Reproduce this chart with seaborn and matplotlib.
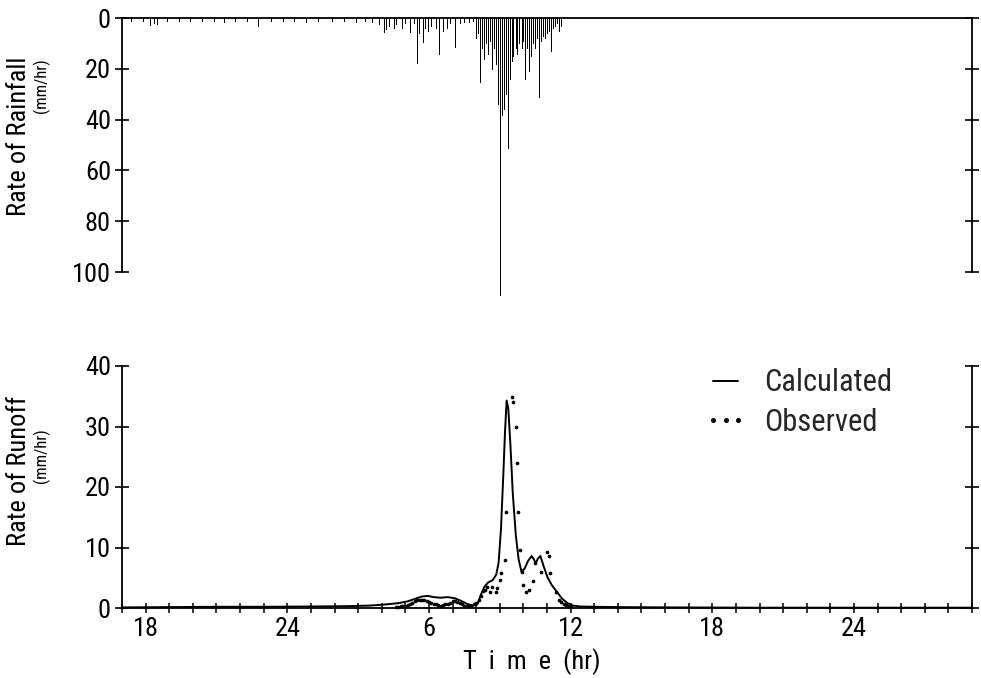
import matplotlib
matplotlib.use("Agg")
import matplotlib.pyplot as plt
import matplotlib.font_manager as fm
from matplotlib.lines import Line2D
from matplotlib.ticker import FixedLocator, MultipleLocator
import seaborn as sns
import pandas as pd

# ---------------- data ----------------
# time axis in continuous hours: 18 = 18:00 day 1, 30 = 6:00 day 2, ...
time_ticks = [18, 24, 30, 36, 42, 48]
time_tick_labels = ["18", "24", "6", "12", "18", "24"]
rain_ticks = [0, 20, 40, 60, 80, 100]
runoff_ticks = [0, 10, 20, 30, 40]

rain_hour = [17.4, 17.9, 18.2, 18.35, 18.5, 18.9, 19.4, 19.9, 20.4, 20.9,
             21.3, 21.8, 22.3, 22.77, 23.3, 23.8, 24.3, 24.8, 25.3, 25.9,
             26.4, 26.9, 27.3, 27.6, 27.9, 28.1, 28.2, 28.3, 28.5, 28.6,
             28.85, 29.0, 29.2, 29.35, 29.5, 29.58, 29.75, 29.85, 29.95, 30.1,
             30.3, 30.44, 30.6, 30.75, 30.9, 31.12, 31.3, 31.5, 31.7, 31.85,
             32.00, 32.08, 32.17, 32.25, 32.33, 32.42, 32.50, 32.58, 32.67, 32.75,
             32.83, 32.92, 33.00, 33.08, 33.17, 33.25, 33.33, 33.42, 33.50, 33.58,
             33.67, 33.75, 33.83, 33.92, 34.00, 34.08, 34.17, 34.25, 34.33, 34.42,
             34.50, 34.58, 34.67, 34.75, 34.83, 34.92, 35.00, 35.08, 35.17, 35.25,
             35.33, 35.42, 35.50, 35.58]
rain_rate = [1.0, 1.2, 2.8, 2.0, 2.5, 1.0, 1.2, 1.0, 1.2, 1.0,
             1.5, 1.0, 1.2, 3.0, 1.0, 1.2, 1.0, 1.5, 1.0, 1.2,
             1.0, 1.5, 1.2, 1.5, 2.5, 5.4, 4.5, 3.0, 3.9, 2.5,
             3.9, 2.0, 5.4, 2.0, 17.7, 6.0, 9.3, 4.0, 5.0, 3.0,
             4.0, 14.2, 5.0, 4.0, 2.0, 11.3, 2.0, 1.5, 1.5, 1.0,
             8, 6, 25, 12, 16, 10, 14, 9, 20, 12,
             18, 34, 109, 38, 36, 30, 51, 24, 17, 15,
             12, 14, 10, 12, 9, 24, 12, 21, 15, 10,
             12, 8, 31, 9, 7, 8, 6, 5, 13, 4,
             3, 2, 5, 3]

calc_hour = [17.0, 19.0, 21.0, 23.0, 25.0, 26.5, 27.5, 28.2, 28.7, 29.1,
             29.4, 29.7, 29.95, 30.2, 30.5, 30.8, 31.1, 31.35, 31.6, 31.85,
             32.05, 32.2, 32.35, 32.5, 32.7, 32.85, 32.95, 33.05, 33.15, 33.22,
             33.29, 33.36, 33.45, 33.55, 33.68, 33.8, 33.92, 34.05, 34.2, 34.35,
             34.45, 34.52, 34.62, 34.72, 34.85, 35.02, 35.2, 35.45, 35.65, 35.87,
             36.1, 36.4, 37.0, 38.0, 40.0, 44.0, 48.0, 53.0]
calc_rate = [0.1, 0.15, 0.2, 0.2, 0.25, 0.3, 0.4, 0.6, 0.8, 1.1,
             1.5, 1.9, 2.0, 1.8, 1.7, 1.8, 1.6, 1.2, 0.7, 0.4,
             0.6, 2.2, 3.5, 4.2, 4.6, 5.5, 7.5, 13.0, 22.0, 29.0,
             34.3, 33.0, 27.0, 19.0, 12.0, 8.0, 6.0, 6.5, 7.8, 8.6,
             8.0, 7.4, 8.2, 8.6, 7.0, 5.1, 3.8, 2.5, 1.5, 0.8,
             0.4, 0.25, 0.2, 0.15, 0.1, 0.05, 0.05, 0.05]

obs_hour = [28.6, 28.7, 28.8, 28.9, 29.0, 29.1, 29.2, 29.3, 29.4, 29.5,
            29.6, 29.7, 29.8, 29.9, 30.0, 30.1, 30.2, 30.3, 30.4, 30.5,
            30.6, 30.7, 30.8, 30.9, 31.0, 31.1, 31.2, 31.3, 31.4, 31.5,
            31.6, 31.7, 31.8, 31.9, 32.0, 32.1, 32.2, 32.3, 32.39, 32.48,
            32.58, 32.69, 32.82, 32.9, 32.99, 33.07, 33.2, 33.28, 33.5, 33.58,
            33.67, 33.71, 33.79, 33.84, 33.96, 34.0, 34.13, 34.22, 34.39, 34.51,
            34.73, 34.98, 35.07, 35.11, 35.36, 35.49, 35.6, 35.7, 35.8, 35.9, 36.0]
obs_rate = [0.2, 0.2, 0.3, 0.3, 0.4, 0.5, 0.7, 0.9, 1.1, 1.3,
            1.4, 1.4, 1.3, 1.2, 1.0, 0.8, 0.7, 0.6, 0.5, 0.4,
            0.5, 0.6, 0.7, 0.9, 1.1, 1.2, 1.0, 0.8, 0.6, 0.4,
            0.3, 0.3, 0.4, 0.6, 0.9, 1.3, 2.0, 2.8, 3.0, 3.5,
            2.6, 3.5, 2.6, 3.3, 4.6, 5.8, 7.9, 15.9, 34.9, 34.0,
            29.9, 24.0, 15.9, 9.6, 6.0, 3.8, 2.6, 3.0, 4.5, 7.4,
            6.0, 9.3, 8.6, 5.8, 2.6, 1.3, 1.0, 0.7, 0.5, 0.4, 0.3]

# ---------------- style ----------------
sns.set_theme(style="ticks")
avail = {f.name for f in fm.fontManager.ttflist}
narrow = None
for cand in ["Liberation Sans Narrow", "Roboto Condensed", "Open Sans Condensed"]:
    if cand in avail:
        narrow = cand
        break
fam = [narrow, "DejaVu Sans"] if narrow else ["DejaVu Sans"]
plt.rcParams["font.family"] = fam
tick_fs = 19 if narrow else 16
lab_fs = 19 if narrow else 16
unit_fs = 12 if narrow else 10
leg_fs = 22 if narrow else 18

W, H = 981, 678
fig = plt.figure(figsize=(W / 100, H / 100), dpi=100)


def rect(l, r, t, b):
    return [l / W, 1 - b / H, (r - l) / W, (b - t) / H]


ax1 = fig.add_axes(rect(122, 972, 18, 272))
ax2 = fig.add_axes(rect(122, 972, 366, 608))

# ---------------- rainfall (hanging bars) ----------------
rain_df = pd.DataFrame({"hour": rain_hour, "rate": rain_rate})
ax1.vlines(rain_df["hour"], 0, rain_df["rate"], colors="black", lw=0.55, clip_on=False,
           antialiased=False)
ax1.set_xlim(17, 53)
ax1.set_ylim(100, 0)
ax1.set_xticks([])
ax1.yaxis.set_major_locator(FixedLocator(rain_ticks))
ax1.set_yticklabels([str(v) for v in rain_ticks])
ax1.spines["bottom"].set_visible(False)
for s in ["top", "left", "right"]:
    ax1.spines[s].set_visible(True)
    ax1.spines[s].set_linewidth(1.3)
    ax1.spines[s].set_color("black")
ax1.tick_params(axis="y", direction="inout", length=10, width=1.2, left=True, right=True,
                labelsize=tick_fs, colors="black", pad=3)
ax1.set_xlabel("")
ax1.set_ylabel("")

# ---------------- runoff ----------------
calc_df = pd.DataFrame({"hour": calc_hour, "rate": calc_rate})
obs_df = pd.DataFrame({"hour": obs_hour, "rate": obs_rate})
sns.lineplot(data=calc_df, x="hour", y="rate", ax=ax2, color="black", lw=1.4, clip_on=False)
sns.scatterplot(data=obs_df, x="hour", y="rate", ax=ax2, color="black", s=7, linewidth=0,
                marker="o", clip_on=False)
ax2.set_xlim(17, 53)
ax2.set_ylim(0, 40)
ax2.xaxis.set_major_locator(FixedLocator(time_ticks))
ax2.set_xticklabels(time_tick_labels)
ax2.xaxis.set_minor_locator(MultipleLocator(1))
ax2.yaxis.set_major_locator(FixedLocator(runoff_ticks))
ax2.set_yticklabels([str(v) for v in runoff_ticks])
ax2.spines["top"].set_visible(False)
for s in ["bottom", "left", "right"]:
    ax2.spines[s].set_visible(True)
    ax2.spines[s].set_linewidth(1.3)
    ax2.spines[s].set_color("black")
ax2.tick_params(axis="x", which="both", direction="inout", length=7, width=1.1,
                labelsize=tick_fs, colors="black", pad=3)
ax2.tick_params(axis="y", direction="inout", length=10, width=1.2, left=True, right=True,
                labelsize=tick_fs, colors="black", pad=3)
ax2.set_xlabel("")
ax2.set_ylabel("")

handles = [Line2D([0], [0], color="black", lw=1.4),
           Line2D([0], [0], ls="none", marker="o", ms=2.6, color="black")]
ax2.legend(handles, ["Calculated", "Observed"], loc="upper left", bbox_to_anchor=(0.685, 0.99),
           frameon=False, numpoints=3, handlelength=1.4, fontsize=leg_fs, handletextpad=0.55,
           labelspacing=0.35, borderaxespad=0, borderpad=0)

# ---------------- axis titles ----------------
fig.text(19 / W, 1 - 136 / H, "Rate of Rainfall", rotation=90, ha="center", va="center",
         fontsize=lab_fs, color="black")
fig.text(41 / W, 1 - 86 / H, "(mm/hr)", rotation=90, ha="center", va="center",
         fontsize=unit_fs, color="black")
fig.text(19 / W, 1 - 471 / H, "Rate of Runoff", rotation=90, ha="center", va="center",
         fontsize=lab_fs, color="black")
fig.text(41 / W, 1 - 456 / H, "(mm/hr)", rotation=90, ha="center", va="center",
         fontsize=unit_fs, color="black")
fig.text(532 / W, 1 - 662 / H, "T  i  m  e  (hr)", ha="center", va="center",
         fontsize=lab_fs, color="black")

fig.savefig("out.png", dpi=100, facecolor="white")
